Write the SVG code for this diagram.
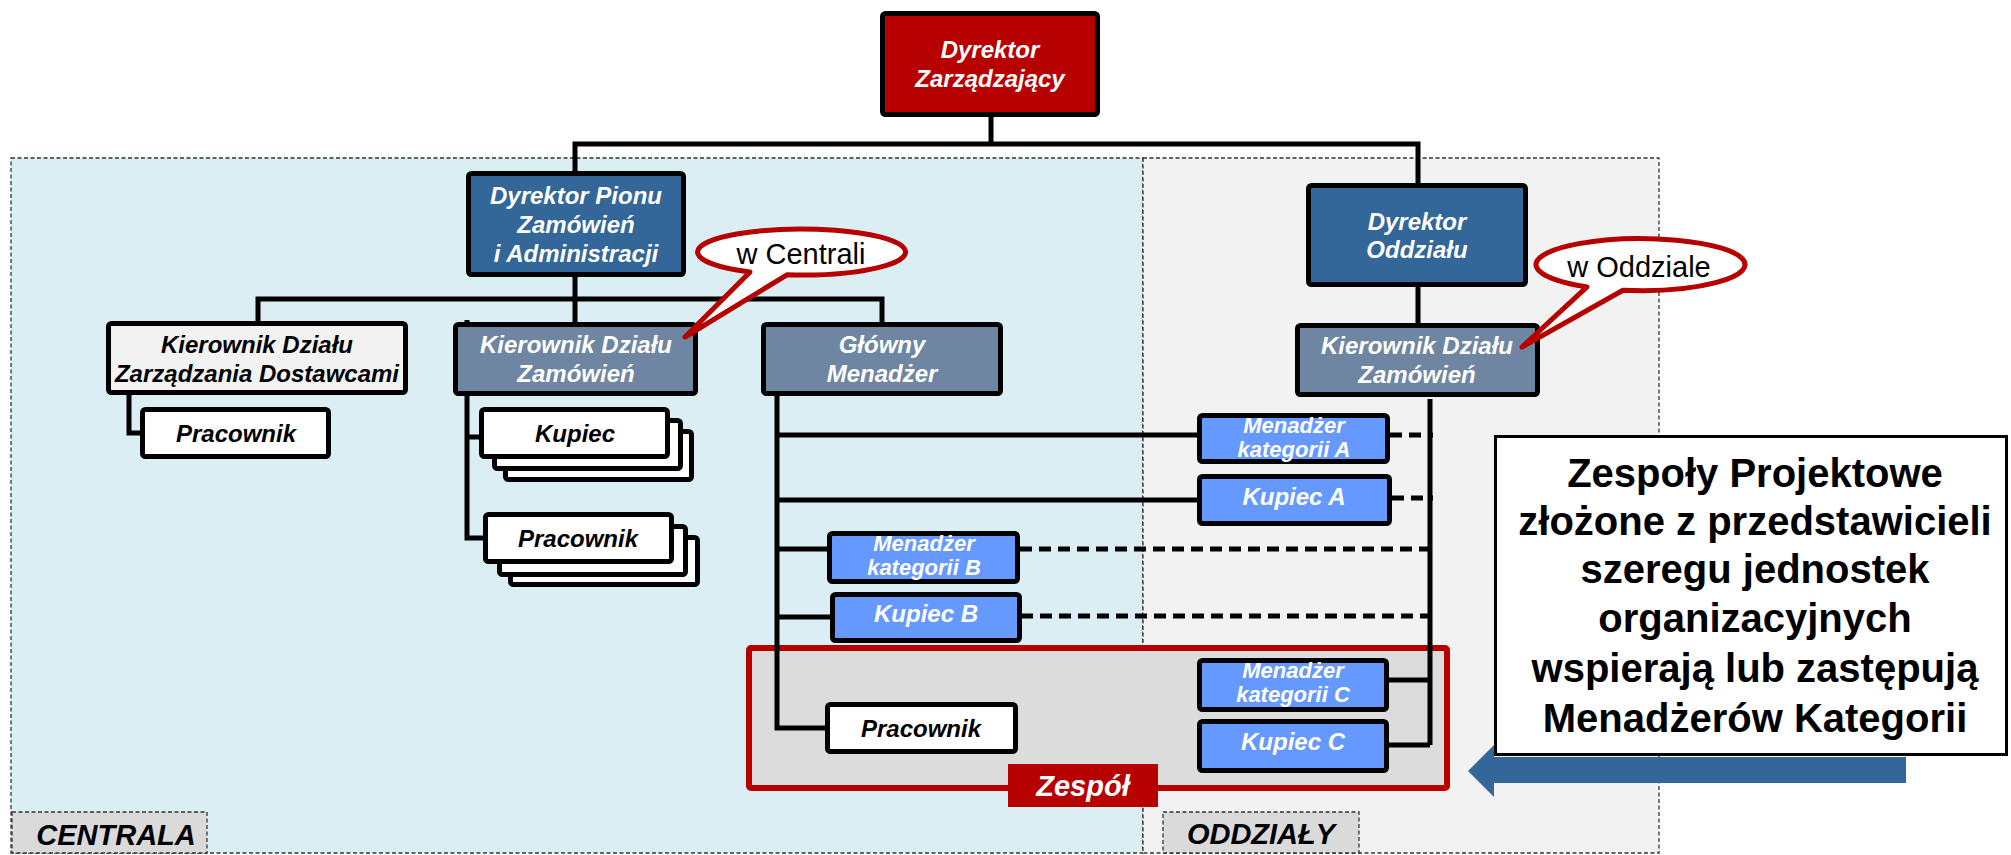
<svg xmlns="http://www.w3.org/2000/svg" width="2011" height="855" viewBox="0 0 2011 855">
<style>
.box{stroke:#000;stroke-width:5;rx:3px;ry:3px}
.red{fill:#b70000}
.navy{fill:#336699}
.slate{fill:#6e86a1}
.sky{fill:#6699ff}
.white{fill:#fff}
.pale{fill:#f2f2f2}
.t{font-family:"Liberation Sans",Arial,sans-serif;font-weight:bold;font-style:italic;font-size:24px;text-anchor:middle}
.s{font-size:22px}
.tw{fill:#fff}
.tk{fill:#000}
.ln{fill:none;stroke:#000;stroke-width:5}
.dsh{stroke-dasharray:12 7}
.zone{stroke:#333;stroke-width:1.3;stroke-dasharray:4 2.5}
.tag{fill:#dadada;stroke:#333;stroke-width:1.3;stroke-dasharray:4 2.5}
.tagt{font-family:"Liberation Sans",Arial,sans-serif;font-weight:bold;font-style:italic;font-size:29px;fill:#000;text-anchor:middle}
.bubble{fill:#fff;stroke:#b70000;stroke-width:5;stroke-linejoin:round}
.bt{font-family:"Liberation Sans",Arial,sans-serif;font-size:29px;fill:#000;text-anchor:middle}
.note{font-family:"Liberation Sans",Arial,sans-serif;font-weight:bold;font-size:40px;fill:#000;text-anchor:middle}
</style>

<!-- organisational areas -->
<g id="areas">
  <rect x="11" y="158" width="1132" height="695" fill="#dbeef4" class="zone"/>
  <rect x="1143" y="158" width="516" height="695" fill="#f2f2f2" class="zone"/>
  <rect x="12" y="812" width="195" height="41" class="tag"/>
  <text x="116" y="845" class="tagt">CENTRALA</text>
  <rect x="1163" y="812" width="196" height="41" class="tag"/>
  <text x="1261" y="844" class="tagt">ODDZIAŁY</text>
</g>

<!-- team frame -->
<g id="zespol-frame">
  <rect x="749" y="648" width="698" height="140" rx="2" fill="#dcdcdc" stroke="#b70000" stroke-width="6"/>
</g>

<!-- connectors -->
<g id="connectors">
  <path class="ln" d="M991,117 V144 M575,173 V144 H1418 V185"/>
  <path class="ln" d="M575,277 V299 M258,323 V299 H882 V324 M575,299 V324"/>
  <path class="ln" d="M1418,287 V325"/>
  <path class="ln" d="M129,395 V433 H142"/>
  <path class="ln" d="M467,320 V538 H485 M467,437 H481"/>
  <path class="ln" d="M777,396 V728 H827 M777,435 H1199 M777,500 H1199 M777,549 H830 M777,617 H832"/>
  <path class="ln" d="M1430,399 V745 M1389,680 H1430 M1389,745 H1430"/>
  <path class="ln dsh" d="M1390,435 H1433 M1392,498 H1433 M1020,549 H1430 M1021,616 H1430"/>
</g>

<g id="dyrektor-zarzadzajacy">
  <rect class="box red" x="882.5" y="13.5" width="215" height="101"/>
  <text class="t tw" x="990" y="58">Dyrektor</text>
  <text class="t tw" x="990" y="87">Zarządzający</text>
</g>

<g id="dyrektor-pionu">
  <rect class="box navy" x="468.5" y="173.5" width="215" height="101"/>
  <text class="t tw" x="576" y="204">Dyrektor  Pionu</text>
  <text class="t tw" x="576" y="233">Zamówień</text>
  <text class="t tw" x="576" y="262">i Administracji</text>
</g>

<g id="dyrektor-oddzialu">
  <rect class="box navy" x="1308.5" y="185.5" width="217" height="99"/>
  <text class="t tw" x="1417" y="230">Dyrektor</text>
  <text class="t tw" x="1417" y="258">Oddziału</text>
</g>

<g id="kierownik-dostawcy">
  <rect class="box pale" x="108.5" y="323.5" width="297" height="69"/>
  <text class="t tk" x="257" y="353">Kierownik Działu</text>
  <text class="t tk" x="257" y="382">Zarządzania Dostawcami</text>
</g>

<g id="kierownik-zamowien-centrala">
  <rect class="box slate" x="455.5" y="324.5" width="240" height="69"/>
  <text class="t tw" x="576" y="353">Kierownik Działu</text>
  <text class="t tw" x="576" y="382">Zamówień</text>
</g>

<g id="glowny-menadzer">
  <rect class="box slate" x="763.5" y="324.5" width="237" height="69"/>
  <text class="t tw" x="882" y="353">Główny</text>
  <text class="t tw" x="882" y="382">Menadżer</text>
</g>

<g id="kierownik-zamowien-oddzial">
  <rect class="box slate" x="1297.5" y="325.5" width="240" height="69"/>
  <text class="t tw" x="1417" y="354">Kierownik Działu</text>
  <text class="t tw" x="1417" y="383">Zamówień</text>
</g>

<g id="pracownik-dostawcy">
  <rect class="box white" x="142.5" y="409.5" width="186" height="47"/>
  <text class="t tk" x="236" y="442">Pracownik</text>
</g>

<g id="kupiec-stos">
  <rect class="box white" x="505.5" y="431.5" width="186" height="48"/>
  <rect class="box white" x="494.5" y="420.5" width="186" height="48"/>
  <rect class="box white" x="481.5" y="409.5" width="186" height="47"/>
  <text class="t tk" x="575" y="442">Kupiec</text>
</g>

<g id="pracownik-stos">
  <rect class="box white" x="510.5" y="537.5" width="187" height="47"/>
  <rect class="box white" x="499.5" y="526.5" width="186" height="48"/>
  <rect class="box white" x="485.5" y="514.5" width="186" height="47"/>
  <text class="t tk" x="578" y="547">Pracownik</text>
</g>

<g id="menadzer-kategorii-a">
  <rect class="box sky" x="1199.5" y="415.5" width="188" height="46"/>
  <text class="t s tw" x="1294" y="433">Menadżer</text>
  <text class="t s tw" x="1294" y="457">kategorii A</text>
</g>

<g id="kupiec-a">
  <rect class="box sky" x="1199.5" y="476.5" width="190" height="47"/>
  <text class="t tw" x="1294" y="505">Kupiec A</text>
</g>

<g id="menadzer-kategorii-b">
  <rect class="box sky" x="829.5" y="533.5" width="188" height="48"/>
  <text class="t s tw" x="924" y="551">Menadżer</text>
  <text class="t s tw" x="924" y="575">kategorii B</text>
</g>

<g id="kupiec-b">
  <rect class="box sky" x="832.5" y="594.5" width="187" height="46"/>
  <text class="t tw" x="926" y="622">Kupiec B</text>
</g>

<g id="pracownik-zespol">
  <rect class="box white" x="827.5" y="704.5" width="188" height="47"/>
  <text class="t tk" x="921" y="737">Pracownik</text>
</g>

<g id="menadzer-kategorii-c">
  <rect class="box sky" x="1199.5" y="660.5" width="187" height="49"/>
  <text class="t s tw" x="1293" y="678">Menadżer</text>
  <text class="t s tw" x="1293" y="702">kategorii C</text>
</g>

<g id="kupiec-c">
  <rect class="box sky" x="1199.5" y="721.5" width="187" height="49"/>
  <text class="t tw" x="1293" y="750">Kupiec C</text>
</g>

<g id="zespol-label">
  <rect x="1008" y="764" width="150" height="43" class="red"/>
  <text x="1083" y="796" class="t tw" style="font-size:29px">Zespół</text>
</g>

<!-- callouts -->
<g id="callout-centrala">
  <path class="bubble" d="M787,274.8 A104,23 0 1 0 750,272 L685,337 Z"/>
  <text class="bt" x="801" y="264">w Centrali</text>
</g>
<g id="callout-oddzial">
  <path class="bubble" d="M1623,290.2 A104.5,26 0 1 0 1587,286.9 L1522,347 Z"/>
  <text class="bt" x="1639" y="277">w Oddziale</text>
</g>

<!-- pointer towards the team -->
<g id="arrow">
  <polygon points="1468,771 1494,745 1494,757 1906,757 1906,783 1494,783 1494,797" fill="#336699"/>
</g>

<g id="note">
  <rect x="1495.5" y="436.5" width="511" height="318" fill="#fff" stroke="#000" stroke-width="3"/>
  <text class="note" x="1755" y="487">Zespoły Projektowe</text>
  <text class="note" x="1755" y="535">złożone z przedstawicieli</text>
  <text class="note" x="1755" y="583">szeregu jednostek</text>
  <text class="note" x="1755" y="632">organizacyjnych</text>
  <text class="note" x="1755" y="682">wspierają lub zastępują</text>
  <text class="note" x="1755" y="732">Menadżerów Kategorii</text>
</g>
</svg>
